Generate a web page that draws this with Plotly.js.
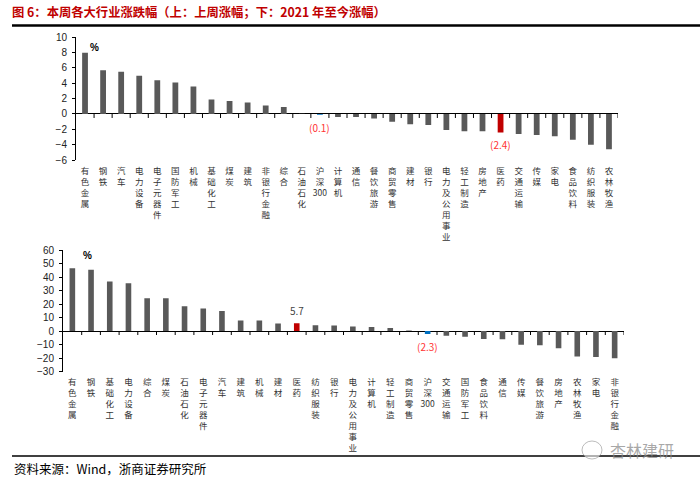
<!DOCTYPE html>
<html>
<head>
<meta charset="utf-8">
<script src="https://cdn.plot.ly/plotly-3.0.1.min.js"></script>
<style>html,body{margin:0;padding:0;background:#fff;}#chart{width:700px;height:486px;}</style>
</head>
<body>
<div id="chart"></div>
<script>
// ---- Data ----
const topCats = ['有色金属','钢铁','汽车','电力设备','电子元器件','国防军工','机械','基础化工','煤炭','建筑','非银行金融','综合','石油石化','沪深300','计算机','通信','餐饮旅游','商贸零售','建材','银行','电力及公用事业','轻工制造','房地产','医药','交通运输','传媒','家电','食品饮料','纺织服装','农林牧渔'];
const topVals = [8.0,5.7,5.5,5.0,4.4,4.1,3.6,1.9,1.7,1.5,1.1,0.9,0.02,-0.1,-0.4,-0.4,-0.6,-1.0,-1.35,-1.45,-2.1,-2.25,-2.25,-2.4,-2.6,-2.75,-2.9,-3.35,-4.0,-4.6];
const botCats = ['有色金属','钢铁','基础化工','电力设备','综合','煤炭','石油石化','电子元器件','汽车','建筑','机械','建材','医药','纺织服装','银行','电力及公用事业','计算机','轻工制造','商贸零售','沪深300','交通运输','国防军工','食品饮料','通信','传媒','餐饮旅游','房地产','农林牧渔','家电','非银行金融'];
const botVals = [46.4,45.4,36.6,35.3,24.3,24.2,18.4,16.6,14.8,7.8,7.7,5.5,5.7,4.2,4.0,3.3,3.0,2.2,0.3,-2.3,-3.5,-4.2,-5.9,-6.2,-10.1,-10.6,-12.8,-18.8,-19.3,-20.2];
const topYTicks = [-6,-4,-2,0,2,4,6,8,10];
const botYTicks = [-30,-20,-10,0,10,20,30,40,50,60];
const topLabelled = ['沪深300','医药'];
const botLabelled = ['医药','沪深300'];

// ---- Style helpers ----
const GRAY = '#595959', RED = '#C00000', BLUE = '#0070C0';
const W = 700, H = 486;
const px = v => v / W, py = v => 1 - v / H;
const colorOf = c => c === '医药' ? RED : (c === '沪深300' ? BLUE : GRAY);
const vertical = c => {
  const m = c.match(/^(.*?)(\d+)$/);
  if (m) return m[1].split('').concat([m[2]]).join('<br>');
  return c.split('').join('<br>');
};
const fmt = v => v < 0 ? '(' + Math.abs(v).toFixed(1) + ')' : v.toFixed(1);

const catFont = {family: 'Noto Sans CJK SC', size: 8.5, color: '#333'};
const numFont = {family: 'Liberation Sans, Arial', size: 10, color: '#222'};

const traces = [
  {type: 'bar', x: topCats, y: topVals, xaxis: 'x', yaxis: 'y', width: 0.32,
   marker: {color: topCats.map(colorOf)}, hoverinfo: 'x+y'},
  {type: 'bar', x: botCats, y: botVals, xaxis: 'x2', yaxis: 'y2', width: 0.3,
   marker: {color: botCats.map(colorOf)}, hoverinfo: 'x+y'}
];

const shapes = [];
// title underline
shapes.push({type: 'line', xref: 'paper', yref: 'paper', x0: px(12), x1: 1, y0: py(25.5), y1: py(25.5), line: {color: '#000', width: 2.5}});
// footer line
shapes.push({type: 'line', xref: 'paper', yref: 'paper', x0: px(12), x1: 1, y0: py(456), y1: py(456), line: {color: '#000', width: 1.5}});
// tick marks between categories on the zero line
function zeroTicks(cats, xr, yr) {
  for (let k = 1; k <= cats.length; k++) {
    shapes.push({type: 'line', xref: xr, yref: yr, ysizemode: 'pixel', yanchor: 0,
      x0: k - 0.5, x1: k - 0.5, y0: 0, y1: -4, line: {color: '#000', width: 1}});
  }
}
zeroTicks(topCats, 'x', 'y');
zeroTicks(botCats, 'x2', 'y2');
// wechat-like icon near watermark
shapes.push({type: 'circle', xref: 'paper', yref: 'paper', x0: px(582), x1: px(602), y0: py(459), y1: py(441), line: {color: 'rgba(160,160,160,0.7)', width: 1}, fillcolor: 'rgba(255,255,255,0.6)'});

const annotations = [];
function barLabels(cats, vals, which, xr, yr) {
  which.forEach(c => {
    const i = cats.indexOf(c);
    const v = vals[i];
    const neg = v < 0;
    annotations.push({xref: xr, yref: yr, x: c, y: v, text: fmt(v), showarrow: false,
      yanchor: neg ? 'top' : 'bottom', yshift: neg ? -3 : 3,
      font: {family: 'Noto Sans CJK SC', size: 10, color: neg ? '#FF3333' : '#444'}});
  });
}
barLabels(topCats, topVals, topLabelled, 'x', 'y');
barLabels(botCats, botVals, botLabelled, 'x2', 'y2');
annotations.push({xref: 'paper', yref: 'paper', x: px(88), y: py(40), text: '<b>%</b>', showarrow: false, font: {family: 'Liberation Sans', size: 10, color: '#000'}});
annotations.push({xref: 'paper', yref: 'paper', x: px(81), y: py(255), text: '<b>%</b>', showarrow: false, font: {family: 'Liberation Sans', size: 10, color: '#000'}});
annotations.push({xref: 'paper', yref: 'paper', x: px(12), y: py(468), xanchor: 'left', yanchor: 'middle', text: '资料来源：Wind，浙商证券研究所', showarrow: false, font: {family: 'Noto Sans CJK SC', size: 12.5, color: '#000'}});
annotations.push({xref: 'paper', yref: 'paper', x: px(608), y: py(450), xanchor: 'left', yanchor: 'middle', text: '杏林建研', showarrow: false, font: {family: 'Noto Sans CJK SC', size: 16, color: 'rgba(140,140,140,0.75)'}});

const layout = {
  width: W, height: H,
  margin: {l: 0, r: 0, t: 0, b: 0},
  paper_bgcolor: '#fff', plot_bgcolor: 'rgba(0,0,0,0)',
  showlegend: false,
  title: {text: '图 6：本周各大行业涨跌幅（上：上周涨幅；下：2021 年至今涨幅）', x: px(12), xanchor: 'left', xref: 'paper',
          y: py(13), yanchor: 'middle', yref: 'paper',
          font: {family: 'Noto Sans CJK SC', size: 12.3, color: RED, weight: 'bold'}},
  xaxis: {domain: [px(76), px(618)], anchor: 'y', type: 'category', range: [-0.5, topCats.length - 0.5],
          tickvals: topCats, ticktext: topCats.map(vertical), tickangle: 0, tickfont: catFont,
          ticks: '', showline: false, showgrid: false, zeroline: false, ticklabelstandoff: 4},
  yaxis: {domain: [py(160), py(37.3)], anchor: 'x', range: [-6, 10], tickvals: topYTicks, tickfont: numFont,
          showline: true, linecolor: '#000', linewidth: 1, ticks: 'outside', ticklen: 3, tickcolor: '#000',
          ticklabelstandoff: 3,
          showgrid: false, zeroline: true, zerolinecolor: '#000', zerolinewidth: 1},
  xaxis2: {domain: [px(63), px(624)], anchor: 'y2', type: 'category', range: [-0.5, botCats.length - 0.5],
          tickvals: botCats, ticktext: botCats.map(vertical), tickangle: 0, tickfont: catFont,
          ticks: '', showline: false, showgrid: false, zeroline: false, ticklabelstandoff: 4},
  yaxis2: {domain: [py(371.5), py(250)], anchor: 'x2', range: [-30, 60], tickvals: botYTicks, tickfont: numFont,
          showline: true, linecolor: '#000', linewidth: 1, ticks: 'outside', ticklen: 3, tickcolor: '#000',
          ticklabelstandoff: 3,
          showgrid: false, zeroline: true, zerolinecolor: '#000', zerolinewidth: 1},
  shapes: shapes,
  annotations: annotations
};

Plotly.newPlot('chart', traces, layout, {staticPlot: true, displayModeBar: false});
</script>
</body>
</html>
